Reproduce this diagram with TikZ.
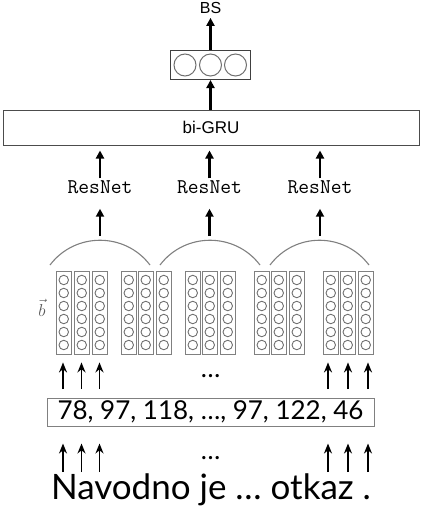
\documentclass[tikz,border=0pt]{standalone}
\usepackage{fontspec}
\setmainfont{Lato}
\newfontfamily\helv{Liberation Sans}
\usetikzlibrary{arrows.meta}
\definecolor{boxgray}{HTML}{808080}
\definecolor{circgray}{HTML}{707070}
\begin{document}
\begin{tikzpicture}[x=1pt,y=-1pt,
  bigarrow/.style={line width=2.2pt,-{Triangle[length=8pt,width=8pt]}},
  smallarrow/.style={line width=1.6pt,-{Stealth[length=10pt,width=8pt]}},
  colbox/.style={draw=boxgray,line width=0.9pt,minimum width=15.5pt,minimum height=83pt,inner sep=0pt},
  unit/.style={circle,draw=circgray,line width=0.9pt,minimum size=9.5pt,inner sep=0pt},
  bigunit/.style={circle,draw=circgray,line width=1pt,minimum size=22pt,inner sep=0pt},
  window/.style={draw=boxgray,line width=1.1pt},
  resnet/.style={font=\ttfamily\fontsize{21}{24}\selectfont,inner sep=1pt}
]
\useasboundingbox (0,0) rectangle (427,511);

% output
\node[font=\helv\fontsize{16}{18}\selectfont,inner sep=1pt] (bs) at (210.5,8) {BS};
\node[draw=black!75,line width=1pt,minimum width=80pt,minimum height=29pt,inner sep=0pt] (out) at (210.5,65) {};
\node[bigunit] (o1) at (185,65) {};
\node[bigunit] (o2) at (210.5,65) {};
\node[bigunit] (o3) at (235.5,65) {};
\draw[bigarrow,shorten >=3pt] (out.north) -- (bs.south);

% bi-GRU
\node[draw=black!70,line width=1pt,minimum width=416pt,minimum height=35pt,inner sep=0pt,
      font=\helv\fontsize{17}{20}\selectfont] (gru) at (211,127.5) {bi-GRU};
\draw[bigarrow] (gru.north -| out) -- (out.south);

% ResNets
\node[resnet] (r1) at (100,187) {ResNet};
\node[resnet] (r2) at (209.5,187) {ResNet};
\node[resnet] (r3) at (320,187) {ResNet};
\foreach \i in {1,2,3}{
  \draw[bigarrow,shorten <=1pt,shorten >=5pt] (r\i.north) -- (r\i.north |- gru.south);
}

% windows (arcs)
\coordinate (w1a) at (50,265);  \coordinate (w1b) at (150,265);
\coordinate (w2a) at (160,265); \coordinate (w2b) at (260,265);
\coordinate (w3a) at (270,265); \coordinate (w3b) at (369,265);
\draw[window] (w1a) .. controls (75,232) and (125,232) .. (w1b);
\draw[window] (w2a) .. controls (185,232) and (235,232) .. (w2b);
\draw[window] (w3a) .. controls (295,232) and (344,232) .. (w3b);
\coordinate (p1) at (100,236);
\coordinate (p2) at (209.5,236);
\coordinate (p3) at (320,236);
\foreach \i in {1,2,3}{
  \draw[bigarrow,shorten >=14pt] (p\i) -- (r\i.south);
}

% character embedding columns
\foreach \x [count=\k] in {56,74,92,121,138,156,185,202,220,254,271,289,323,340,358}{
  \node[colbox] (c\k) at (\x+7.75,312.5) {};
  \foreach \j in {0,...,5}{
    \node[unit] (u\k-\j) at (\x+7.75,280+13*\j) {};
  }
}
\node[text=black!65,font=\fontsize{18}{20}\selectfont,inner sep=0pt] (bvec) at (42,308) {$\vec{b}$};

% numbers
\node[draw=boxgray,line width=1pt,minimum width=327pt,minimum height=28pt,inner sep=0pt,
      font=\fontsize{26}{28}\selectfont] (nums) at (210.5,412) {78, 97, 118, \ldots, 97, 122, 46};

\foreach \x [count=\k] in {63,81.5,99.5,328,348,368}{
  \coordinate (t\k) at (\x,389);
  \coordinate (b\k) at (\x,472);
  \draw[smallarrow,shorten >=8pt] (t\k) -- (t\k |- c1.south);
  \draw[smallarrow,shorten >=17pt] (b\k) -- (b\k |- nums.south);
}
\node[font=\fontsize{26}{28}\selectfont,anchor=base,inner sep=0pt] (dots1) at (210.5,377) {\ldots};
\node[font=\fontsize{26}{28}\selectfont,anchor=base,inner sep=0pt] (dots2) at (210.5,459) {\ldots};

% words
\node[font=\fontsize{35}{38}\selectfont,anchor=base,inner sep=0pt] (words) at (211,499) {Navodno je \ldots{} otkaz .};
\end{tikzpicture}
\end{document}
